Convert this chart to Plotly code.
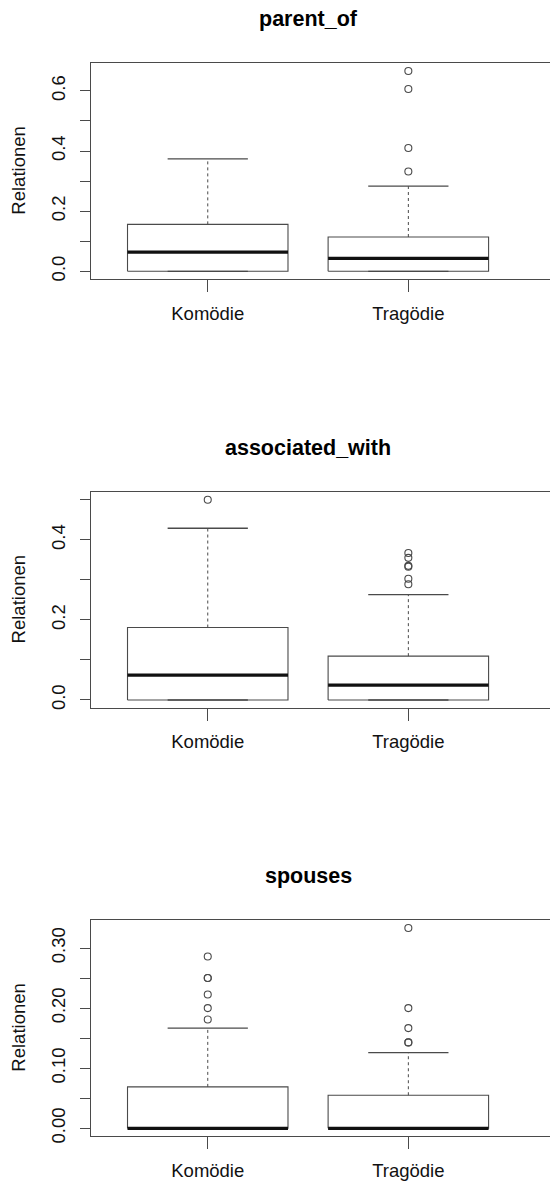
import plotly.graph_objects as go

# ---------------- data ----------------
categories = ["Komödie", "Tragödie"]
panel_titles = ["parent_of", "associated_with", "spouses"]
y_axis_label = "Relationen"

# parent_of
parent_q1 = [0.0, 0.0]
parent_median = [0.064, 0.043]
parent_q3 = [0.156, 0.114]
parent_lower = [0.0, 0.0]
parent_upper = [0.374, 0.283]
parent_out_kom = []
parent_out_tra = [0.666, 0.606, 0.410, 0.332]

# associated_with
assoc_q1 = [0.0, 0.0]
assoc_median = [0.062, 0.037]
assoc_q3 = [0.181, 0.1095]
assoc_lower = [0.0, 0.0]
assoc_upper = [0.429, 0.263]
assoc_out_kom = [0.500]
assoc_out_tra = [0.367, 0.355, 0.335, 0.333, 0.303, 0.289]

# spouses
spouse_q1 = [0.0, 0.0]
spouse_median = [0.0, 0.0]
spouse_q3 = [0.0689, 0.055]
spouse_lower = [0.0, 0.0]
spouse_upper = [0.1667, 0.126]
spouse_out_kom = [0.286, 0.25, 0.25, 0.2227, 0.2, 0.181]
spouse_out_tra = [0.3333, 0.2, 0.1667, 0.1429, 0.1429]

# tick labels
parent_tickvals = [0.0, 0.1, 0.2, 0.3, 0.4, 0.5, 0.6]
parent_ticktext = ["0.0", "", "0.2", "", "0.4", "", "0.6"]
assoc_tickvals = [0.0, 0.1, 0.2, 0.3, 0.4, 0.5]
assoc_ticktext = ["0.0", "", "0.2", "", "0.4", ""]
spouse_tickvals = [0.0, 0.05, 0.10, 0.15, 0.20, 0.25, 0.30]
spouse_ticktext = ["0.00", "", "0.10", "", "0.20", "", "0.30"]

panels = [
    dict(q1=parent_q1, med=parent_median, q3=parent_q3, lo=parent_lower, hi=parent_upper,
         out=[parent_out_kom, parent_out_tra], tv=parent_tickvals, tt=parent_ticktext),
    dict(q1=assoc_q1, med=assoc_median, q3=assoc_q3, lo=assoc_lower, hi=assoc_upper,
         out=[assoc_out_kom, assoc_out_tra], tv=assoc_tickvals, tt=assoc_ticktext),
    dict(q1=spouse_q1, med=spouse_median, q3=spouse_q3, lo=spouse_lower, hi=spouse_upper,
         out=[spouse_out_kom, spouse_out_tra], tv=spouse_tickvals, tt=spouse_ticktext),
]

# ---------------- style ----------------
PAGE_OFF = 8                      # default body margin of the html page
W, H = 558 - PAGE_OFF, 1182 - PAGE_OFF
ML = 91 - PAGE_OFF
FONT = "Liberation Sans, Arial, Helvetica, sans-serif"
LINE = "#4a4a4a"
TXT = "#111111"
FS = 18.5
BOX_HALF = 0.4
CAP_HALF = 0.2
# vertical page-pixel positions of each panel (top, bottom)
panel_px = [(63, 279.3), (491.8, 708.0), (920.0, 1136.3)]
TITLE_OFFSET = 44

fig = go.Figure()
layout_axes = {}
annotations = []

for i, p in enumerate(panels):
    n = i + 1
    xa = "x" if n == 1 else f"x{n}"
    ya = "y" if n == 1 else f"y{n}"
    for j, cat in enumerate(categories):
        c = j + 1
        # whiskers (dashed)
        fig.add_trace(go.Scatter(x=[c, c], y=[p["q3"][j], p["hi"][j]], mode="lines",
                                 line=dict(color=LINE, width=1, dash="3px,3px"),
                                 xaxis=xa, yaxis=ya, showlegend=False, hoverinfo="skip"))
        fig.add_trace(go.Scatter(x=[c, c], y=[p["lo"][j], p["q1"][j]], mode="lines",
                                 line=dict(color=LINE, width=1, dash="3px,3px"),
                                 xaxis=xa, yaxis=ya, showlegend=False, hoverinfo="skip"))
        # staples
        for v in (p["hi"][j], p["lo"][j]):
            fig.add_trace(go.Scatter(x=[c - CAP_HALF, c + CAP_HALF], y=[v, v], mode="lines",
                                     line=dict(color=LINE, width=1.3),
                                     xaxis=xa, yaxis=ya, showlegend=False, hoverinfo="skip"))
        # box
        fig.add_trace(go.Scatter(
            x=[c - BOX_HALF, c + BOX_HALF, c + BOX_HALF, c - BOX_HALF, c - BOX_HALF],
            y=[p["q1"][j], p["q1"][j], p["q3"][j], p["q3"][j], p["q1"][j]],
            mode="lines", line=dict(color=LINE, width=1.1),
            xaxis=xa, yaxis=ya, showlegend=False, hoverinfo="skip"))
        # median
        fig.add_trace(go.Scatter(x=[c - BOX_HALF, c + BOX_HALF], y=[p["med"][j], p["med"][j]],
                                 mode="lines", line=dict(color="#111111", width=3.2),
                                 xaxis=xa, yaxis=ya, showlegend=False, hoverinfo="skip"))
        # outliers
        if p["out"][j]:
            fig.add_trace(go.Scatter(x=[c] * len(p["out"][j]), y=p["out"][j], mode="markers",
                                     marker=dict(symbol="circle-open", size=7,
                                                 color=LINE, line=dict(width=1.1, color=LINE)),
                                     xaxis=xa, yaxis=ya, showlegend=False, hoverinfo="skip"))

    # y-range per R rule: extend data range by 4%
    allv = p["q1"] + p["hi"] + p["lo"] + p["out"][0] + p["out"][1]
    lo, hi = min(allv), max(allv)
    pad = 0.04 * (hi - lo)
    top, bot = panel_px[i]
    top -= PAGE_OFF
    bot -= PAGE_OFF
    dom = [1 - bot / H, 1 - top / H]

    xkey = "xaxis" if n == 1 else f"xaxis{n}"
    ykey = "yaxis" if n == 1 else f"yaxis{n}"
    layout_axes[xkey] = dict(
        domain=[0, 1], anchor=ya, range=[1 - 0.582, 2.746], automargin=False,
        tickvals=[1, 2], ticktext=categories, ticks="outside", ticklen=12,
        tickwidth=1, tickcolor=LINE, showline=True, linecolor=LINE, linewidth=1,
        mirror=True, showgrid=False, zeroline=False,
        tickfont=dict(family=FONT, size=FS, color=TXT), ticklabelstandoff=5,
    )
    layout_axes[ykey] = dict(
        domain=dom, anchor=xa, range=[lo - pad, hi + pad], automargin=False,
        tickvals=p["tv"], ticktext=p["tt"], ticks="outside", ticklen=10,
        tickwidth=1, tickcolor=LINE, showline=True, linecolor=LINE, linewidth=1,
        showgrid=False, zeroline=False, tickangle=-90,
        tickfont=dict(family=FONT, size=FS, color=TXT), ticklabelstandoff=8,
    )
    annotations.append(dict(
        text=f"<b>{panel_titles[i]}</b>", x=1.5, xref=xa,
        y=1 + TITLE_OFFSET / (bot - top), yref=f"{ya} domain",
        xanchor="center", yanchor="middle", showarrow=False,
        font=dict(family=FONT, size=21.5, color="#000000"),
    ))
    annotations.append(dict(
        text=y_axis_label, x=(18.5 - PAGE_OFF - ML) / (W - ML), xref="paper",
        y=0.5, yref=f"{ya} domain", textangle=-90, borderpad=0,
        xanchor="center", yanchor="middle", showarrow=False,
        font=dict(family=FONT, size=FS, color=TXT),
    ))

fig.update_layout(
    width=W, height=H,
    margin=dict(l=ML, r=0, t=0, b=0, autoexpand=False),
    paper_bgcolor="white", plot_bgcolor="white",
    annotations=annotations,
    showlegend=False,
    **layout_axes,
)

fig.write_html("out.html")
